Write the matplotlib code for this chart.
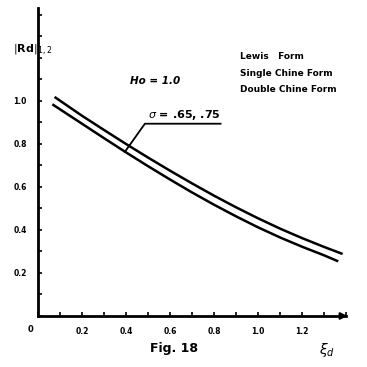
import numpy as np
import matplotlib
matplotlib.use("Agg")
import matplotlib.pyplot as plt
from matplotlib.ticker import MultipleLocator

# valores (sigma = .65 / .75)
xi_upper = [0.08, 0.2, 0.3, 0.4, 0.5, 0.6, 0.7, 0.8, 0.9, 1.0, 1.1, 1.2, 1.3, 1.38]
rd_upper = [1.014, 0.93, 0.864, 0.799, 0.736, 0.675, 0.616, 0.559, 0.505, 0.454,
            0.406, 0.362, 0.321, 0.29]
xi_lower = [0.07, 0.2, 0.3, 0.4, 0.5, 0.6, 0.7, 0.8, 0.9, 1.0, 1.1, 1.2, 1.3, 1.36]
rd_lower = [0.98, 0.893, 0.826, 0.760, 0.696, 0.634, 0.574, 0.517, 0.463, 0.412,
            0.365, 0.322, 0.282, 0.256]
x_ticks = [0.2, 0.4, 0.6, 0.8, 1.0, 1.2]
y_ticks = [0.2, 0.4, 0.6, 0.8, 1.0]
legend_lines = ["Lewis   Form", "Single Chine Form", "Double Chine Form"]

fig = plt.figure(figsize=(3.67, 3.67), dpi=100)
ax = fig.add_axes([0.1035, 0.139, 0.839, 0.839])

ax.plot(xi_upper, rd_upper, color='black', lw=1.8, solid_joinstyle='round')
ax.plot(xi_lower, rd_lower, color='black', lw=1.8, solid_joinstyle='round')

ax.set_xlim(0, 1.4)
ax.set_ylim(0, 1.43)
for s in ['top', 'right']:
    ax.spines[s].set_visible(False)
for s in ['left', 'bottom']:
    ax.spines[s].set_linewidth(2)

ax.xaxis.set_minor_locator(MultipleLocator(0.1))
ax.yaxis.set_minor_locator(MultipleLocator(0.1))
ax.set_xticks(x_ticks)
ax.set_yticks(y_ticks)
ax.set_xticklabels([f"{v:.1f}" for v in x_ticks])
ax.set_yticklabels([f"{v:.1f}" for v in y_ticks])
ax.tick_params(which='both', direction='in', length=3, width=1.2, pad=8,
               labelsize=5.5)
for lab in ax.get_xticklabels() + ax.get_yticklabels():
    lab.set_fontweight('bold')

# flecha del eje x
ax.annotate('', xy=(1.42, 0), xytext=(1.36, 0),
            arrowprops=dict(arrowstyle='-|>', color='black', lw=1.5),
            annotation_clip=False)

ax.text(-0.02, -0.04, '0', ha='right', va='top', fontsize=6, fontweight='bold')

# anotacion sigma
ax.plot([0.395, 0.486, 0.83], [0.762, 0.893, 0.893], color='black', lw=1.3)
ax.text(0.50, 0.90, r'$\sigma$ = .65, .75', fontsize=8, fontweight='bold',
        va='bottom')

ax.text(0.42, 1.093, 'Ho = 1.0', fontsize=7.5, fontweight='bold',
        style='italic', va='center')
for i, t in enumerate(legend_lines):
    ax.text(0.92, 1.205 - i * 0.077, t, fontsize=6.5, fontweight='bold',
            va='center')

fig.text(0.035, 0.865, r'$|\mathbf{Rd}|_{1,2}$', fontsize=8, va='center')
fig.text(0.41, 0.05, 'Fig. 18', fontsize=9, fontweight='bold', va='center')
fig.text(0.87, 0.045, r'$\xi_d$', fontsize=10, va='center')

fig.savefig('out.png', dpi=100)
